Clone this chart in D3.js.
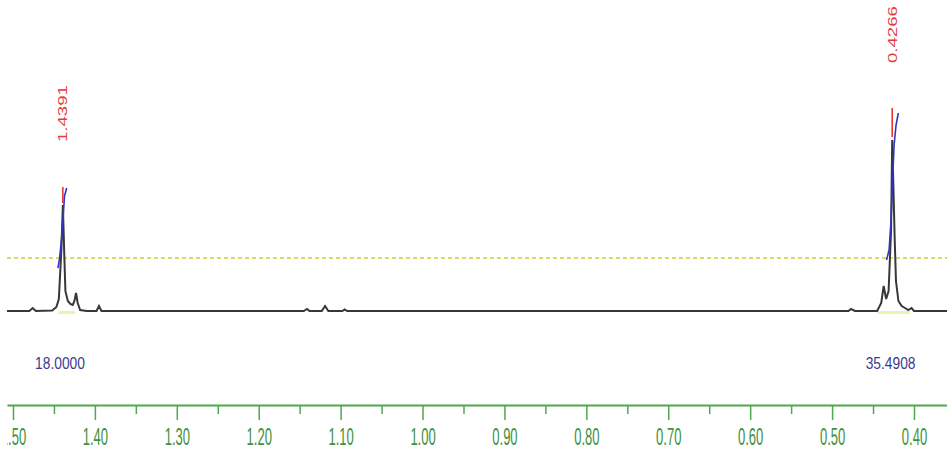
<!DOCTYPE html>
<html>
<head>
<meta charset="utf-8">
<script src="https://cdn.jsdelivr.net/npm/d3@7"></script>
<style>
  body { margin: 0; background: #fff; }
  svg { display: block; }
</style>
</head>
<body>
<div id="chart"></div>
<script>
// spectrum trace (ppm, intensity above baseline)
var specPpm = [1.5073, 1.480, 1.476, 1.472, 1.452, 1.447, 1.444, 1.441, 1.4391, 1.4375, 1.436, 1.433, 1.430,
  1.427, 1.425, 1.423, 1.421, 1.418, 1.410, 1.398, 1.395, 1.392, 1.145, 1.141, 1.138, 1.123, 1.119, 1.115,
  1.098, 1.095, 1.092, 0.480, 0.477, 0.472, 0.445, 0.440, 0.437, 0.434, 0.431, 0.428, 0.4266, 0.425, 0.4235,
  0.422, 0.419, 0.415, 0.411, 0.407, 0.403, 0.400, 0.3597];
var specInt = [0, 0, 3, 0, 0.5, 4, 12, 60, 106, 60, 20, 10, 7,
  6, 10, 18, 8, 1, 0, 0, 5, 0, 0, 2, 0, 0, 5, 0,
  0, 1.5, 0, 0, 2, 0, 0, 8, 25, 12, 20, 80, 171, 120, 70,
  30, 10, 5, 3, 1, 3, 0, 0];

// integral curves
var intLeftPpm = [1.4451, 1.4432, 1.4405, 1.4389, 1.4371, 1.4344];
var intLeftVal = [43, 52, 74, 92, 115, 123];
var intRightPpm = [0.4335, 0.4304, 0.4280, 0.4261, 0.4243, 0.4219, 0.4191];
var intRightVal = [51, 61, 91, 131, 166, 186, 198];

var integralLabels = ["18.0000", "35.4908"];
var integralLabelPpm = [1.4426, 0.4286];
var integralRegions = [[1.445, 1.424], [0.445, 0.405]];

// picked peaks
var peakPpm = [1.4391, 0.4266];
var peakText = ["1.4391", "0.4266"];
var markerLow = [108, 174];
var markerHigh = [124, 203];

var thresholdLevel = 53;

var majorTicks = [1.50, 1.40, 1.30, 1.20, 1.10, 1.00, 0.90, 0.80, 0.70, 0.60, 0.50, 0.40];
var minorTicks = [1.45, 1.35, 1.25, 1.15, 1.05, 0.95, 0.85, 0.75, 0.65, 0.55, 0.45];

var width = 947, height = 456;

var svg = d3.select("#chart").append("svg")
  .attr("width", width)
  .attr("height", height);

svg.append("clipPath").attr("id", "clip")
  .append("rect").attr("x", 7).attr("y", 0).attr("width", width - 7).attr("height", height);

var g = svg.append("g").attr("clip-path", "url(#clip)");

var x = d3.scaleLinear().domain([1.5073, 0.3597]).range([7, 947]);
var y = d3.scaleLinear().domain([0, 200]).range([311, 111]);

// threshold dashed line
g.append("line")
  .attr("x1", x(1.5073)).attr("x2", x(0.3597))
  .attr("y1", y(thresholdLevel)).attr("y2", y(thresholdLevel))
  .attr("stroke", "#cfcf3a")
  .attr("stroke-width", 1.6)
  .attr("stroke-dasharray", "4,3");

// integral region markers
g.selectAll(".region")
  .data(integralRegions)
  .enter().append("line")
  .attr("x1", function(d) { return x(d[0]); })
  .attr("x2", function(d) { return x(d[1]); })
  .attr("y1", y(0) + 1.5).attr("y2", y(0) + 1.5)
  .attr("stroke", "#eef2b0")
  .attr("stroke-width", 3);

// spectrum
var spec = specPpm.map(function(p, i) { return { ppm: p, v: specInt[i] }; });
var line = d3.line()
  .x(function(d) { return x(d.ppm); })
  .y(function(d) { return y(d.v); });

g.append("path")
  .datum(spec)
  .attr("d", line)
  .attr("fill", "none")
  .attr("stroke", "#383838")
  .attr("stroke-width", 2);

// integral curves
[[intLeftPpm, intLeftVal], [intRightPpm, intRightVal]].forEach(function(c) {
  var pts = c[0].map(function(p, i) { return { ppm: p, v: c[1][i] }; });
  g.append("path")
    .datum(pts)
    .attr("d", line)
    .attr("fill", "none")
    .attr("stroke", "#3434c4")
    .attr("stroke-width", 1.6);
});

// peak markers
g.selectAll(".marker")
  .data(peakPpm)
  .enter().append("line")
  .attr("x1", function(d) { return x(d); })
  .attr("x2", function(d) { return x(d); })
  .attr("y1", function(d, i) { return y(markerLow[i]); })
  .attr("y2", function(d, i) { return y(markerHigh[i]); })
  .attr("stroke", "#e82a2a")
  .attr("stroke-width", 1.5);

g.selectAll(".peaklabel")
  .data(peakPpm)
  .enter().append("text")
  .attr("transform", function(d, i) {
    return "translate(" + (x(d) + 4.5) + "," + (y(markerHigh[i]) - 45) + ") rotate(-90) scale(1.55,1)";
  })
  .attr("text-anchor", "start")
  .attr("font-family", "'Liberation Sans', Arial, sans-serif")
  .attr("font-size", "12px")
  .attr("fill", "#e43a3a")
  .text(function(d, i) { return peakText[i]; });

// integral values
g.selectAll(".intlabel")
  .data(integralLabels)
  .enter().append("text")
  .attr("transform", function(d, i) {
    return "translate(" + x(integralLabelPpm[i]) + ",369) scale(1.15,1.4)";
  })
  .attr("text-anchor", "middle")
  .attr("font-family", "'Liberation Sans', Arial, sans-serif")
  .attr("font-size", "12px")
  .attr("fill", "#3a3a8e")
  .text(function(d) { return d; });

// ppm axis
var axisColor = "#4ea84e";
var minorAxis = g.append("g")
  .attr("transform", "translate(0,405)")
  .call(d3.axisBottom(x).tickValues(minorTicks).tickSize(9).tickSizeOuter(0).tickFormat(""));
minorAxis.select(".domain").remove();
minorAxis.selectAll("line").attr("stroke", axisColor).attr("stroke-width", 1.5);

var majorAxis = g.append("g")
  .attr("transform", "translate(0,405)")
  .call(d3.axisBottom(x).tickValues(majorTicks).tickSize(15).tickSizeOuter(0).tickFormat(d3.format(".2f")));
majorAxis.select(".domain").attr("stroke", axisColor).attr("stroke-width", 1.8);
majorAxis.selectAll("line").attr("stroke", axisColor).attr("stroke-width", 1.5);
majorAxis.selectAll("text")
  .attr("y", 0)
  .attr("dy", null)
  .attr("transform", "translate(0,40) scale(1,1.85)")
  .attr("font-family", "'Liberation Sans', Arial, sans-serif")
  .attr("font-size", "13px")
  .attr("fill", "#3e9240");
</script>
</body>
</html>
